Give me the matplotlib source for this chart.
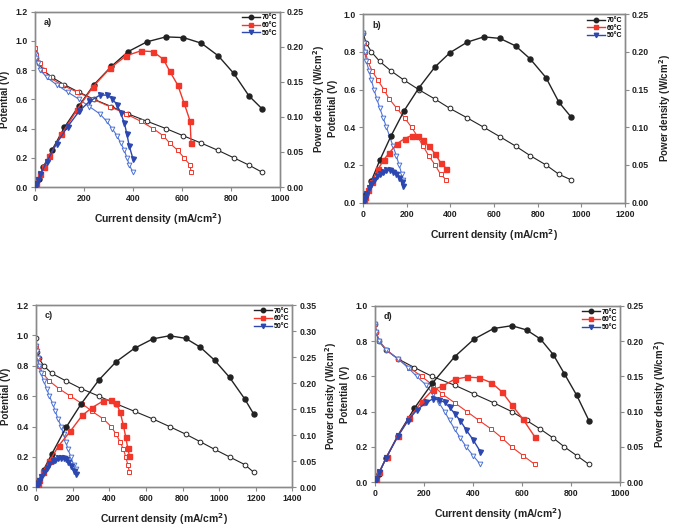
import matplotlib
matplotlib.use("Agg")
import matplotlib.pyplot as plt
from matplotlib.lines import Line2D

plt.rcParams['font.family'] = ['Liberation Sans', 'DejaVu Sans']
plt.rcParams['font.weight'] = 'bold'
plt.rcParams['mathtext.default'] = 'bf'

labels = ["70°C", "60°C", "50°C"]

# ---------------- panel a ----------------
a_I70 = [0, 5, 15, 33, 70, 120, 178, 241, 312, 380, 457, 534, 606, 679, 748, 811, 873, 928]
a_V70 = [0.92, 0.88, 0.85, 0.80, 0.75, 0.70, 0.65, 0.60, 0.55, 0.50, 0.45, 0.40, 0.35, 0.30, 0.25, 0.20, 0.15, 0.10]
a_P70 = [0.0, 0.004, 0.012, 0.028, 0.053, 0.085, 0.115, 0.146, 0.172, 0.193, 0.207, 0.214, 0.213, 0.205, 0.187, 0.162, 0.130, 0.111]
a_I60 = [0, 5, 20, 37, 59, 108, 171, 237, 305, 372, 431, 482, 524, 550, 583, 608, 633, 637]
a_V60 = [0.95, 0.90, 0.85, 0.80, 0.75, 0.70, 0.65, 0.60, 0.55, 0.50, 0.45, 0.40, 0.35, 0.30, 0.25, 0.20, 0.15, 0.10]
a_P60 = [0.0, 0.005, 0.018, 0.029, 0.044, 0.075, 0.110, 0.143, 0.169, 0.187, 0.194, 0.193, 0.182, 0.165, 0.145, 0.120, 0.094, 0.063]
a_I50 = [0, 5, 12, 22, 48, 88, 133, 180, 222, 265, 292, 315, 335, 350, 365, 375, 385, 400]
a_V50 = [0.91, 0.88, 0.85, 0.80, 0.75, 0.70, 0.65, 0.60, 0.55, 0.50, 0.45, 0.40, 0.35, 0.30, 0.25, 0.20, 0.15, 0.10]
a_P50 = [0.0, 0.004, 0.010, 0.018, 0.036, 0.062, 0.086, 0.108, 0.122, 0.131, 0.131, 0.126, 0.117, 0.105, 0.091, 0.075, 0.058, 0.040]

# ---------------- panel b ----------------
b_I70 = [0, 13, 38, 76, 127, 188, 255, 329, 398, 477, 553, 627, 699, 765, 838, 898, 955]
b_V70 = [0.90, 0.85, 0.80, 0.75, 0.70, 0.65, 0.60, 0.55, 0.50, 0.45, 0.40, 0.35, 0.30, 0.25, 0.20, 0.15, 0.12]
b_P70 = [0.0, 0.012, 0.029, 0.056, 0.088, 0.122, 0.152, 0.180, 0.199, 0.213, 0.220, 0.218, 0.208, 0.191, 0.166, 0.133, 0.113]
b_I60 = [0, 3, 10, 22, 40, 68, 95, 120, 155, 190, 222, 250, 275, 300, 330, 355, 382]
b_V60 = [0.90, 0.85, 0.80, 0.75, 0.70, 0.65, 0.60, 0.55, 0.50, 0.45, 0.40, 0.35, 0.30, 0.25, 0.20, 0.15, 0.12]
b_P60 = [0.0, 0.003, 0.008, 0.017, 0.028, 0.044, 0.057, 0.066, 0.078, 0.085, 0.089, 0.088, 0.083, 0.075, 0.065, 0.053, 0.045]
b_I50 = [0, 3, 8, 15, 27, 38, 50, 63, 77, 92, 107, 122, 137, 152, 165, 177, 184]
b_V50 = [0.90, 0.85, 0.80, 0.75, 0.70, 0.65, 0.60, 0.55, 0.50, 0.45, 0.40, 0.35, 0.30, 0.25, 0.20, 0.15, 0.12]
b_P50 = [0.0, 0.003, 0.006, 0.011, 0.019, 0.025, 0.030, 0.035, 0.038, 0.041, 0.043, 0.043, 0.041, 0.038, 0.033, 0.027, 0.022]

# ---------------- panel c ----------------
c_I70 = [0, 5, 15, 42, 86, 164, 246, 343, 437, 538, 638, 729, 817, 897, 975, 1057, 1139, 1188]
c_V70 = [0.98, 0.89, 0.85, 0.80, 0.75, 0.70, 0.65, 0.60, 0.55, 0.50, 0.45, 0.40, 0.35, 0.30, 0.25, 0.20, 0.15, 0.10]
c_P70 = [0.0, 0.004, 0.013, 0.034, 0.064, 0.115, 0.160, 0.206, 0.241, 0.267, 0.285, 0.291, 0.286, 0.269, 0.244, 0.211, 0.170, 0.141]
c_I60 = [0, 2, 8, 18, 36, 73, 124, 188, 252, 306, 368, 410, 437, 459, 477, 490, 501, 510]
c_V60 = [0.93, 0.90, 0.85, 0.80, 0.75, 0.70, 0.65, 0.60, 0.55, 0.50, 0.45, 0.40, 0.35, 0.30, 0.25, 0.20, 0.15, 0.10]
c_P60 = [0.0, 0.002, 0.007, 0.014, 0.030, 0.050, 0.080, 0.108, 0.138, 0.153, 0.166, 0.168, 0.162, 0.145, 0.119, 0.096, 0.075, 0.060]
c_I50 = [0, 3, 8, 15, 27, 42, 58, 73, 91, 106, 120, 137, 150, 162, 175, 190, 205, 216]
c_V50 = [0.93, 0.90, 0.85, 0.80, 0.75, 0.70, 0.65, 0.60, 0.55, 0.50, 0.45, 0.40, 0.35, 0.30, 0.25, 0.20, 0.15, 0.12]
c_P50 = [0.0, 0.003, 0.007, 0.012, 0.020, 0.029, 0.037, 0.044, 0.050, 0.053, 0.056, 0.057, 0.057, 0.055, 0.049, 0.040, 0.031, 0.026]

# ---------------- panel d ----------------
d_I70 = [0, 5, 15, 45, 93, 161, 233, 325, 404, 484, 558, 618, 675, 727, 772, 823, 873]
d_V70 = [0.90, 0.85, 0.80, 0.75, 0.70, 0.65, 0.60, 0.55, 0.50, 0.45, 0.40, 0.35, 0.30, 0.25, 0.20, 0.15, 0.10]
d_P70 = [0.0, 0.004, 0.012, 0.034, 0.066, 0.105, 0.140, 0.178, 0.203, 0.218, 0.222, 0.216, 0.203, 0.181, 0.154, 0.123, 0.087]
d_I60 = [0, 5, 18, 48, 93, 140, 190, 236, 274, 325, 375, 424, 475, 518, 557, 604, 652]
d_V60 = [0.90, 0.85, 0.80, 0.75, 0.70, 0.65, 0.60, 0.55, 0.50, 0.45, 0.40, 0.35, 0.30, 0.25, 0.20, 0.15, 0.10]
d_P60 = [0.0, 0.004, 0.014, 0.036, 0.065, 0.091, 0.114, 0.131, 0.136, 0.146, 0.149, 0.148, 0.141, 0.128, 0.110, 0.089, 0.064]
d_I50 = [0, 5, 18, 45, 93, 134, 170, 209, 236, 261, 284, 304, 325, 348, 372, 400, 430]
d_V50 = [0.90, 0.85, 0.80, 0.75, 0.70, 0.65, 0.60, 0.55, 0.50, 0.45, 0.40, 0.35, 0.30, 0.25, 0.20, 0.15, 0.10]
d_P50 = [0.0, 0.004, 0.014, 0.034, 0.065, 0.087, 0.102, 0.113, 0.118, 0.117, 0.113, 0.106, 0.097, 0.087, 0.074, 0.060, 0.043]

# axis ranges / ticks per panel
panels = [
    dict(tag="a)", rect=[0.0515, 0.6465, 0.3603, 0.3315], xmax=1000, vmax=1.2, pmax=0.25,
         lpad=4, rpad=5,
         data=[(a_I70, a_V70, a_P70), (a_I60, a_V60, a_P60), (a_I50, a_V50, a_P50)]),
    dict(tag="b)", rect=[0.534, 0.617, 0.385, 0.356], xmax=1200, vmax=1.0, pmax=0.25,
         lpad=4, rpad=6,
         data=[(b_I70, b_V70, b_P70), (b_I60, b_V60, b_P60), (b_I50, b_V50, b_P50)]),
    dict(tag="c)", rect=[0.053, 0.0788, 0.377, 0.3446], xmax=1400, vmax=1.2, pmax=0.35,
         lpad=4, rpad=5,
         data=[(c_I70, c_V70, c_P70), (c_I60, c_V60, c_P60), (c_I50, c_V50, c_P50)]),
    dict(tag="d)", rect=[0.5515, 0.0888, 0.3605, 0.3328], xmax=1000, vmax=1.0, pmax=0.25,
         lpad=4, rpad=6,
         data=[(d_I70, d_V70, d_P70), (d_I60, d_V60, d_P60), (d_I50, d_V50, d_P50)]),
]

pot_colors = ["#222222", "#f2362a", "#4f74d4"]
pow_colors = ["#222222", "#f2362a", "#2c48b0"]
markers = ["o", "s", "v"]
spine_c = "#8a8a8a"

fig = plt.figure(figsize=(6.8, 5.29), dpi=100)

for p in panels:
    ax = fig.add_axes(p["rect"])
    ax2 = ax.twinx()
    for k, (I, V, P) in enumerate(p["data"]):
        ax.plot(I, V, color=pot_colors[k], lw=0.8, marker=markers[k], ms=3.4,
                mfc="white", mec=pot_colors[k], mew=0.7, zorder=3)
        ax2.plot(I, P, color=pow_colors[k], lw=1.0, marker=markers[k], ms=3.6,
                 mfc=pow_colors[k], mec=pow_colors[k], zorder=3)
    ax.set_xlim(0, p["xmax"])
    ax.set_ylim(0, p["vmax"])
    ax2.set_ylim(0, p["pmax"])
    ax.set_xticks(range(0, p["xmax"] + 1, 200))
    nv = int(round(p["vmax"] / 0.2))
    ax.set_yticks([i * 0.2 for i in range(nv + 1)])
    ax.set_yticklabels([f"{i*0.2:.1f}" for i in range(nv + 1)])
    npw = int(round(p["pmax"] / 0.05))
    ax2.set_yticks([i * 0.05 for i in range(npw + 1)])
    ax2.set_yticklabels([f"{i*0.05:.2f}" for i in range(npw + 1)])
    for a in (ax, ax2):
        for s in a.spines.values():
            s.set_color(spine_c)
            s.set_linewidth(1.0)
        a.tick_params(direction="out", length=3, width=0.8, color=spine_c,
                      labelsize=6.3, labelcolor="#222222", pad=2)
    for lab in ax.get_xticklabels() + ax.get_yticklabels() + ax2.get_yticklabels():
        lab.set_fontweight("bold")
    ax.set_xlabel("Current density (mA/cm$^{2}$)", fontsize=7.5, fontweight="bold",
                  labelpad=6, color="#222222")
    ax.set_ylabel("Potential (V)", fontsize=7.0, fontweight="bold", labelpad=p["lpad"],
                  color="#222222")
    ax2.set_ylabel("Power density (W/cm$^{2}$)", fontsize=7.0, fontweight="bold",
                   labelpad=p["rpad"], color="#222222")
    ax.text(0.035, 0.94, p["tag"], transform=ax.transAxes, fontsize=6.5,
            fontweight="bold", va="center", ha="left", color="#222222")
    handles = [Line2D([0], [0], color=pow_colors[k], lw=1.0, marker=markers[k], ms=3.2,
                      mfc=pow_colors[k], mec=pow_colors[k]) for k in range(3)]
    leg = ax2.legend(handles, labels, loc="upper right", frameon=False, fontsize=5,
                     handlelength=2.6, handletextpad=0.3, labelspacing=0.1,
                     borderaxespad=0.2, borderpad=0.2)
    for t in leg.get_texts():
        t.set_fontweight("bold")

fig.savefig("out.png", dpi=100)
